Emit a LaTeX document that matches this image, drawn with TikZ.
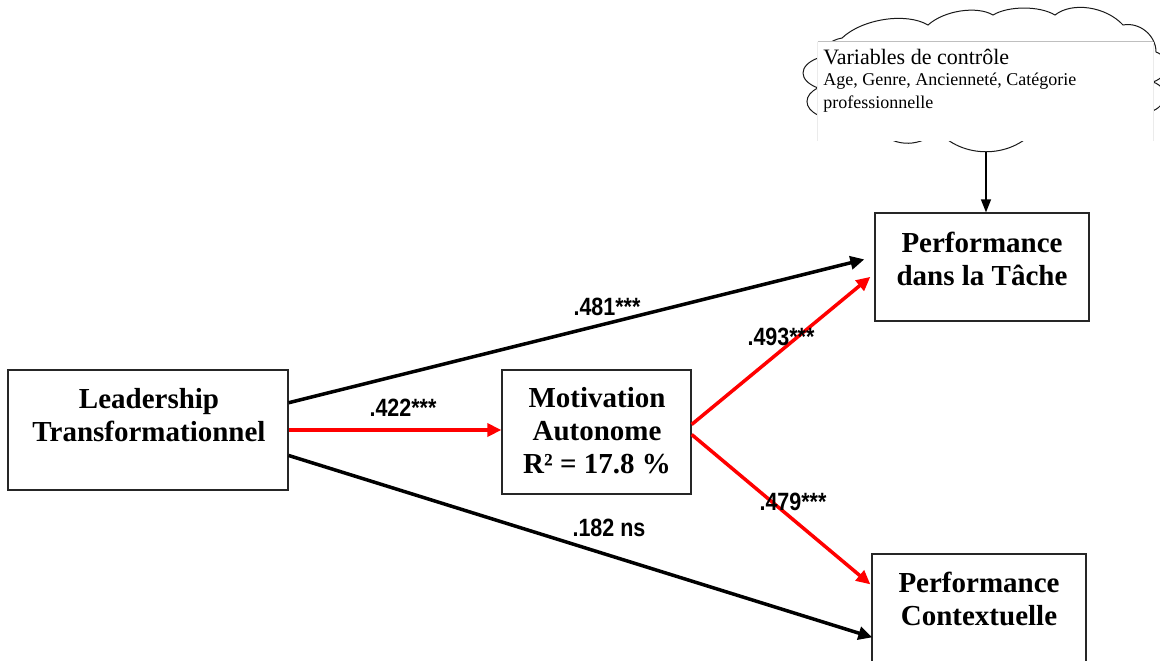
\documentclass[tikz,border=0pt]{standalone}
\usepackage{fontspec}
\setmainfont{Liberation Serif}
\newfontfamily\labfont[FakeStretch=0.86]{Liberation Sans}
\usetikzlibrary{arrows.meta,calc}
\begin{document}
\begin{tikzpicture}[x=0.5pt,y=-0.5pt,
  box/.style={draw=black!85, line width=0.65pt, rectangle, inner sep=0pt},
  boxtext/.style={font=\fontsize{14.5}{16.5}\selectfont\bfseries, align=center, inner sep=0pt},
  coef/.style={font=\labfont\fontsize{12.5}{14}\selectfont\bfseries, inner sep=0pt},
  thickarrow/.style={line width=1.75pt, -{Triangle[length=7pt,width=6.5pt]}},
  redarrow/.style={thickarrow, draw=red},
  thinarrow/.style={line width=0.65pt, -{Triangle[length=6.5pt,width=5pt]}},
  cloudline/.style={draw=black!90, line width=0.5pt}
]
\useasboundingbox (0,0) rectangle (1160,660);
\clip (0,0) rectangle (1160,660);

% cloud outline
\draw[cloudline] (818,115)
  .. controls (803.3,108.25) and (803.3,94.75) .. (818,88)
  .. controls (798,80.5) and (798,65.5) .. (818,58)
  .. controls (822,48) and (830,40) .. (842,38)
  .. controls (862,19) and (906,12) .. (928,25)
  .. controls (944,10.5) and (977,5.5) .. (993,15)
  .. controls (1008.5,5.7) and (1039.5,5.7) .. (1055,15)
  .. controls (1072,1.5) and (1106,6.5) .. (1123,25)
  .. controls (1139.5,21.8) and (1156,35.3) .. (1156,52)
  .. controls (1172,58) and (1170,76) .. (1153,82)
  .. controls (1170,88) and (1168,106) .. (1150,112)
  .. controls (1135,135) and (1070,138) .. (1035,130)
  .. controls (1010.5,159) and (961.5,159) .. (937,130)
  .. controls (923,147) and (894,148) .. (880,131)
  .. controls (860,139) and (830,132) .. (818,115) -- cycle;
\coordinate (clb) at (986,151.5);

% text box over the cloud
\node[fill=white, draw=none, minimum width=167.5pt, minimum height=49.5pt, inner sep=0pt] (wb) at (985.5,91.5) {};
\draw[black!25, line width=0.5pt] (wb.north west) -- (wb.north east);
\draw[black!8, line width=0.5pt] (wb.north west) -- (wb.south west) (wb.north east) -- (wb.south east);
\node[anchor=west, inner sep=0pt, font=\fontsize{11}{12}\selectfont] (cv1) at (823,57) {Variables de contrôle};
\node[anchor=west, align=left, inner sep=0pt, font=\fontsize{9}{11.5}\selectfont] (cv2) at (823,92.5) {Age, Genre, Ancienneté, Catégorie\\professionnelle};

% boxes
\node[box, minimum width=140pt, minimum height=60pt] (lt) at (148,430) {};
\node[boxtext] (ltt) at (149,415.5) {Leadership\\Transformationnel};
\node[box, minimum width=94.5pt, minimum height=62pt] (mot) at (596.5,432) {};
\node[boxtext] (mott) at (597,431) {Motivation\\Autonome\\R² = 17.8 \%};
\node[box, minimum width=107pt, minimum height=54pt] (pt) at (982,267) {};
\node[boxtext] (ptt) at (982,258.5) {Performance\\dans la Tâche};
\node[box, minimum width=107pt, minimum height=63pt] (pc) at (979,617) {};
\node[boxtext] (pct) at (979,598.5) {Performance\\Contextuelle};

% connectors
\draw[thinarrow] (clb) -- (clb |- pt.north);
\draw[thickarrow] ($(lt.north east)!0.275!(lt.south east)$) -- ($(pt.north west)!0.43!(pt.south west)+(-10,0)$);
\draw[redarrow] (lt.east) -- (lt.east -| mot.west);
\draw[thickarrow] ($(lt.north east)!0.71!(lt.south east)$) -- ($(pc.north west)+(1,84)$);
\draw[redarrow] ($(mot.north east)!0.44!(mot.south east)$) -- ($(pt.north west)!0.59!(pt.south west)+(-4,0)$);
\draw[redarrow] ($(mot.north east)!0.52!(mot.south east)$) -- ($(pc.north west)+(-1,31)$);

% coefficients
\node[coef] (c1) at (607,307) {.481***};
\node[coef] (c2) at (403,408) {.422***};
\node[coef] (c3) at (609,528) {.182 ns};
\node[coef] (c4) at (781,337) {.493***};
\node[coef] (c5) at (793,502) {.479***};
\end{tikzpicture}
\end{document}
